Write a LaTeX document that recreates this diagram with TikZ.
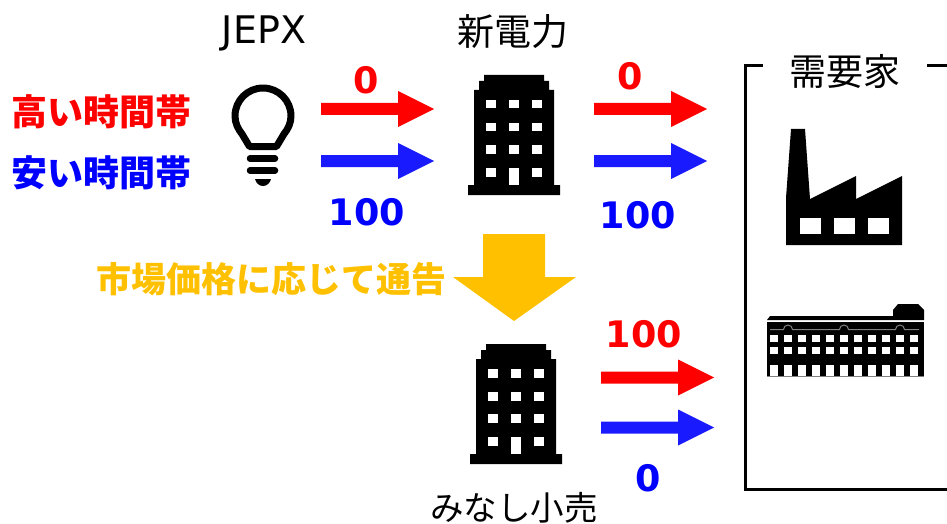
\documentclass[tikz,border=0pt]{standalone}
\usepackage{fontspec}
\setmainfont{DejaVu Sans}
\newfontfamily\jp{Noto Sans CJK JP}
\usetikzlibrary{calc}
\definecolor{myred}{RGB}{255,0,0}
\definecolor{myblue}{RGB}{26,26,255}
\definecolor{txtblue}{RGB}{0,0,255}
\definecolor{myamber}{RGB}{255,192,0}
\tikzset{
  lbl/.style={inner sep=0pt,font=\fontsize{37}{37}\selectfont\jp,text=black},
  jplbl/.style={inner sep=0pt,font=\fontsize{36}{36}\selectfont\jp\bfseries},
  num/.style={inner sep=0pt,font=\fontsize{36.5}{37}\selectfont\bfseries},
  bracket/.style={line width=3pt,black},
  win/.style={fill=white},
}
\newcommand{\blockarrow}[4]{% x1,x2(tip),y,color
  \fill[#4] (#1,#3-6) -- (#2-36,#3-6) -- (#2-36,#3-18) -- (#2,#3) -- (#2-36,#3+18) -- (#2-36,#3+6) -- (#1,#3+6) -- cycle;}
\newcommand{\officeblock}[2]{%
  \begin{scope}[shift={(#1,#2)}]
    \fill[black] (484,75) -- (544,75) -- (544,81) -- (549,81) -- (549,90) -- (554,90) -- (554,185) -- (560,185) -- (560,195) -- (468,195) -- (468,185) -- (474,185) -- (474,90) -- (479,90) -- (479,81) -- (484,81) -- cycle;
    \foreach \yy in {100,123,145}{\foreach \xx in {486,509,532}{\fill[win] (\xx,\yy) rectangle ++(10,8.5);}}
    \fill[win] (486,168) rectangle ++(10,8.5);
    \fill[win] (532,168) rectangle ++(10,8.5);
    \fill[win] (509,168) rectangle ++(10,17);
  \end{scope}}
\begin{document}
\begin{tikzpicture}[x=1pt,y=-1pt]
\useasboundingbox (0,0) rectangle (947,524);
% texts
\node[inner sep=0pt,font=\fontsize{38}{38}\selectfont,text=black] (jepx) at (264,33) {JEPX};
\node[lbl] (shin) at (513,32) {新電力};
\node[lbl] (juyou) at (845,71) {需要家};
\node[lbl,font=\fontsize{33.5}{34}\selectfont\jp] (minashi) at (514,507.5) {みなし小売};
\node[jplbl,text=myred] (high) at (101,112) {高い時間帯};
\node[jplbl,text=txtblue] (low) at (101,173) {安い時間帯};
\node[jplbl,font=\fontsize{35}{35}\selectfont\jp\bfseries,text=myamber] (notice) at (271,279) {市場価格に応じて通告};
\node[num,text=myred] (n1) at (366,80) {0};
\node[num,text=txtblue] (n2) at (367,212) {100};
\node[num,text=myred] (n3) at (630,76) {0};
\node[num,text=txtblue] (n4) at (638,215) {100};
\node[num,text=myred] (n5) at (644,334) {100};
\node[num,text=txtblue] (n6) at (648,478) {0};
% bulb
\draw[line width=7pt,line join=round,black] (249.5,146.5) -- (242,134) .. controls (238,129) and (235,123) .. (235,116) arc[start angle=180,end angle=360,radius=28] .. controls (291,123) and (288,129) .. (284,134) -- (276.5,146.5) -- cycle;
\draw[line width=6.5pt,line cap=round,black] (250,158.5) -- (275,158.5);
\draw[line width=6.5pt,line cap=round,black] (250,170.5) -- (275,170.5);
\fill[black] (255,179) -- (271,179) .. controls (270,183) and (267,186) .. (263,186) .. controls (259,186) and (256,183) .. (255,179) -- cycle;
% arrows
\blockarrow{321}{434}{109}{myred}
\blockarrow{321}{434}{161}{myblue}
\blockarrow{594}{707}{109}{myred}
\blockarrow{594}{707}{161}{myblue}
\blockarrow{601}{714}{377.5}{myred}
\blockarrow{601}{714}{427.5}{myblue}
% buildings
\officeblock{0}{0}
\officeblock{2}{269}
% amber arrow
\fill[myamber] (483,234) -- (545,234) -- (545,277) -- (576,277) -- (514,321) -- (453,277) -- (483,277) -- cycle;
% bracket
\draw[bracket] (763,66) -- (745.5,66) -- (745.5,489) -- (947,489);
\draw[bracket] (927,66) -- (947,66);
% factory
\fill[black] (791,129) -- (805,129) -- (810,199) -- (856,176) -- (856,199) -- (902,176) -- (902,245) -- (786,245) -- (786,198) -- cycle;
\foreach \xx in {800,834,868}{\fill[win] (\xx,218) rectangle ++(20.5,15.5);}
% old building
\fill[black] (767,320) -- (770,316) -- (893,316) -- (893,310) -- (898,304) -- (918,304) -- (924,310) -- (924,320) -- cycle;
\fill[black] (767,322) rectangle (924,376);
\foreach \i in {0,...,10}{
  \pgfmathsetmacro{\xx}{770+14*\i}
  \fill[win] (\xx,335) rectangle ++(8,7);
  \fill[win] (\xx,347) rectangle ++(8,6.5);
  \fill[win] (\xx,365) rectangle ++(8,10.5);
}
\draw[line width=1pt,gray] (767,376) -- (924,376);
\draw[line width=1pt,gray] (770,329.5) -- (783.5,329.5) arc[start angle=180,end angle=360,radius=4.5] -- (839.5,329.5) arc[start angle=180,end angle=360,radius=4.5] -- (895.5,329.5) arc[start angle=180,end angle=360,radius=4.5] -- (919,329.5);
\end{tikzpicture}
\end{document}
